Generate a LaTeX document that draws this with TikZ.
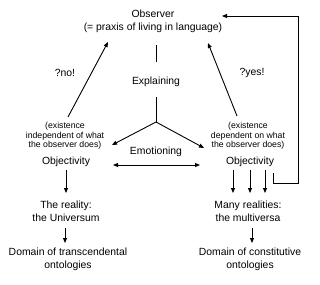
\documentclass[tikz,border=0pt]{standalone}
\usepackage{fontspec}
\setmainfont{Liberation Sans}
\usetikzlibrary{arrows.meta}
\tikzset{
  lbl/.style={font=\fontsize{10.4}{13}\selectfont, align=center, inner sep=0pt},
  note/.style={font=\fontsize{8.7}{9.6}\selectfont, align=center, inner sep=0pt},
  conn/.style={line width=0.9pt},
  arr/.style={conn, -{Triangle[length=5pt,width=4pt]}},
  dblarr/.style={conn, {Triangle[length=5pt,width=4pt]}-{Triangle[length=5pt,width=4pt]}},
}

\begin{document}
\begin{tikzpicture}[x=1pt,y=-1pt]
\useasboundingbox (0,0) rectangle (320,284);

% top
\node[lbl] (obs)  at (153,21.5) {Observer\\(= praxis of living in language)};
\node[lbl] (expl) at (156,82)   {Explaining};
\node[lbl] (no)   at (65,73)    {?no!};
\node[lbl] (yes)  at (252,73)   {?yes!};

% left column
\node[note] (indep) at (65,136) {(existence\\independent of what\\the observer does)};
\node[lbl] (objl)  at (66,162)   {Objectivity};
\node[lbl] (univ)  at (66,211.5) {The reality:\\the Universum};
\node[lbl] (trans) at (68,259.5) {Domain of transcendental\\ontologies};

% right column
\node[note] (dep)  at (248,136)   {(existence\\dependent on what\\the observer does)};
\node[lbl] (objr)  at (250,162)   {Objectivity};
\node[lbl] (multi) at (248,211.5) {Many realities:\\the multiversa};
\node[lbl] (const) at (250,259.5) {Domain of constitutive\\ontologies};

\node[lbl] (emo) at (156,152) {Emotioning};

% explaining stem and fork
\coordinate (fork) at (156,122);
\draw[conn] (156,45) -- (156,62);
\draw[conn] (156,97) -- (fork);
\draw[arr] (fork) -- (112,145);
\draw[arr] (fork) -- (204,148);

% the two ways up
\draw[arr] (68,117) -- (108,42);
\draw[arr] (237,116) -- (208,43);

\draw[dblarr] (113,165) -- (200,165);

% downward arrows
\draw[arr] (66,170) -- (66,193);
\draw[arr] (65,228) -- (65,243);
\foreach \x in {233,250,265}
  \draw[arr] (\x,170) -- (\x,193);
\draw[arr] (252,228) -- (252,243);

% feedback to the observer
\coordinate (obstip) at (222,16);
\draw[arr] (273,173) -- (273,183) -- (298,183) -- (298,16) -- (obstip);
\end{tikzpicture}
\end{document}
